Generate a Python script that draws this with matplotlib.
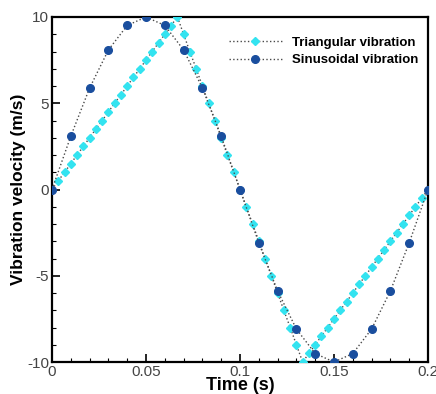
import matplotlib
matplotlib.use("Agg")
import matplotlib.pyplot as plt
from matplotlib.ticker import MultipleLocator

plt.rcParams['font.family'] = ['Liberation Sans', 'DejaVu Sans']

# Triangular vibration samples (time in s, velocity in m/s)
tri_t = [0.0000, 0.0033, 0.0067, 0.0100, 0.0133, 0.0167, 0.0200, 0.0233, 0.0267, 0.0300,
         0.0333, 0.0367, 0.0400, 0.0433, 0.0467, 0.0500, 0.0533, 0.0567, 0.0600, 0.0633,
         0.0667, 0.0700, 0.0733, 0.0767, 0.0800, 0.0833, 0.0867, 0.0900, 0.0933, 0.0967,
         0.1000, 0.1033, 0.1067, 0.1100, 0.1133, 0.1167, 0.1200, 0.1233, 0.1267, 0.1300,
         0.1333, 0.1367, 0.1400, 0.1433, 0.1467, 0.1500, 0.1533, 0.1567, 0.1600, 0.1633,
         0.1667, 0.1700, 0.1733, 0.1767, 0.1800, 0.1833, 0.1867, 0.1900, 0.1933, 0.1967,
         0.2000]
tri_v = [0.0, 0.5, 1.0, 1.5, 2.0, 2.5, 3.0, 3.5, 4.0, 4.5,
         5.0, 5.5, 6.0, 6.5, 7.0, 7.5, 8.0, 8.5, 9.0, 9.5,
         10.0, 9.0, 8.0, 7.0, 6.0, 5.0, 4.0, 3.0, 2.0, 1.0,
         0.0, -1.0, -2.0, -3.0, -4.0, -5.0, -6.0, -7.0, -8.0, -9.0,
         -10.0, -9.5, -9.0, -8.5, -8.0, -7.5, -7.0, -6.5, -6.0, -5.5,
         -5.0, -4.5, -4.0, -3.5, -3.0, -2.5, -2.0, -1.5, -1.0, -0.5,
         0.0]

# Sinusoidal vibration samples
sin_t = [0.00, 0.01, 0.02, 0.03, 0.04, 0.05, 0.06, 0.07, 0.08, 0.09, 0.10,
         0.11, 0.12, 0.13, 0.14, 0.15, 0.16, 0.17, 0.18, 0.19, 0.20]
sin_v = [0.0, 3.09, 5.88, 8.09, 9.51, 10.0, 9.51, 8.09, 5.88, 3.09, 0.0,
         -3.09, -5.88, -8.09, -9.51, -10.0, -9.51, -8.09, -5.88, -3.09, 0.0]

x_ticks = [0, 0.05, 0.1, 0.15, 0.2]
x_labels = ['0', '0.05', '0.1', '0.15', '0.2']
y_ticks = [-10, -5, 0, 5, 10]
y_labels = ['-10', '-5', '0', '5', '10']

fig = plt.figure(figsize=(4.36, 3.94), dpi=100)
ax = fig.add_axes([52/436, 1-362/394, (428-52)/436, (362-17)/394])

ax.plot(tri_t, tri_v, linestyle=':', color='#4a4a4a', linewidth=1.0,
        marker='D', markersize=4.3, markerfacecolor='#33e3f0', markeredgecolor='#33e3f0',
        label='Triangular vibration', zorder=3)
ax.plot(sin_t, sin_v, linestyle=':', color='#4a4a4a', linewidth=1.0,
        marker='o', markersize=5.5, markerfacecolor='#1a4e9e', markeredgecolor='#1a4e9e',
        label='Sinusoidal vibration', zorder=4)

ax.set_xlim(0, 0.2)
ax.set_ylim(-10, 10)
ax.set_xticks(x_ticks)
ax.set_xticklabels(x_labels)
ax.set_yticks(y_ticks)
ax.set_yticklabels(y_labels)
ax.xaxis.set_minor_locator(MultipleLocator(0.01))
ax.yaxis.set_minor_locator(MultipleLocator(1))
ax.tick_params(which='major', direction='in', length=6, width=1.2, labelsize=11,
               labelcolor='#444444', pad=2)
ax.tick_params(which='minor', direction='in', length=3, width=0.8)
ax.tick_params(top=False, right=False, which='both')
for s in ax.spines.values():
    s.set_linewidth(1.6)

ax.set_xlabel('Time (s)', fontsize=13, fontweight='bold', labelpad=-1)
ax.set_ylabel('Vibration velocity (m/s)', fontsize=12.5, fontweight='bold', labelpad=1)

leg = ax.legend(loc='upper right', frameon=False,
                prop={'weight': 'bold', 'size': 9.5}, handlelength=4,
                bbox_to_anchor=(1.0, 0.97), borderaxespad=0.3, labelspacing=0.4)

fig.savefig('out.png', dpi=100)
